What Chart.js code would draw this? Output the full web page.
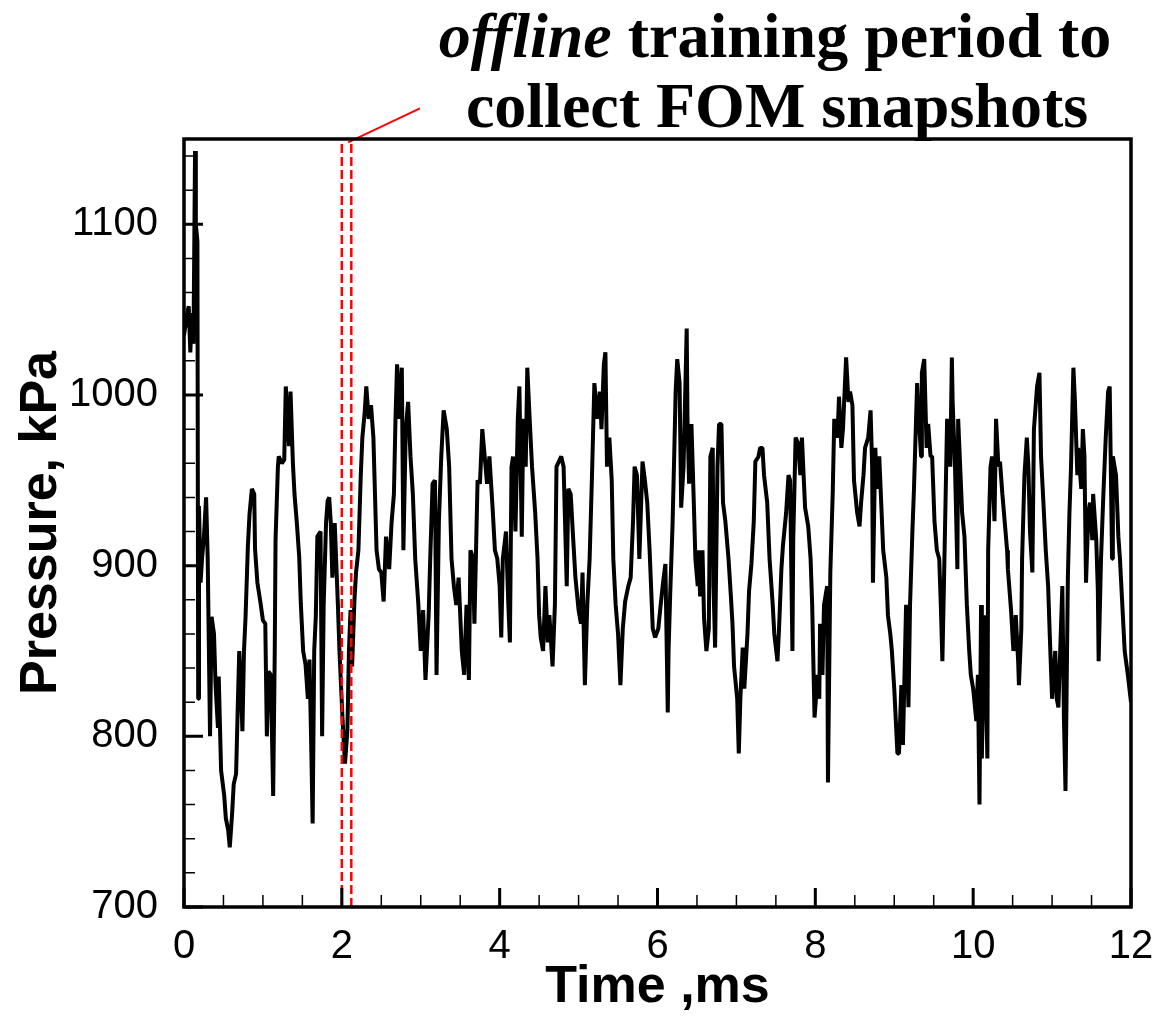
<!DOCTYPE html>
<html lang="en">
<head>
<meta charset="UTF-8">
<title>Pressure history</title>
<script src="https://cdn.jsdelivr.net/npm/chart.js"></script>
<style>
  body { margin: 0; background: #fff; }
  #wrap { width: 1171px; height: 1016px; }
</style>
</head>
<body>
<div id="wrap"><canvas id="pressureChart"></canvas></div>
<script>
// probe pressure vs time
const timeMs = [
  0.00, 0.03, 0.06, 0.08, 0.10, 0.12, 0.14, 0.15, 0.17, 0.18, 0.19, 0.21, 0.23, 0.25, 0.28, 0.30,
  0.33, 0.35, 0.38, 0.40, 0.43, 0.44, 0.47, 0.51, 0.53, 0.56, 0.58, 0.61, 0.63, 0.66, 0.68, 0.70,
  0.72, 0.74, 0.76, 0.78, 0.81, 0.83, 0.86, 0.89, 0.90, 0.93, 0.97, 1.00, 1.03, 1.05, 1.07, 1.10,
  1.13, 1.15, 1.16, 1.19, 1.20, 1.24, 1.27, 1.29, 1.33, 1.35, 1.38, 1.40, 1.43, 1.46, 1.48, 1.51,
  1.54, 1.57, 1.59, 1.61, 1.63, 1.65, 1.67, 1.69, 1.73, 1.75, 1.77, 1.80, 1.82, 1.84, 1.86, 1.88,
  1.91, 1.95, 1.97, 2.01, 2.04, 2.07, 2.09, 2.11, 2.13, 2.16, 2.18, 2.21, 2.24, 2.26, 2.29, 2.31,
  2.34, 2.37, 2.40, 2.42, 2.44, 2.47, 2.50, 2.53, 2.56, 2.60, 2.63, 2.66, 2.68, 2.70, 2.73, 2.76,
  2.78, 2.81, 2.84, 2.87, 2.90, 2.93, 2.97, 3.00, 3.03, 3.06, 3.10, 3.12, 3.15, 3.18, 3.20, 3.23,
  3.26, 3.29, 3.33, 3.36, 3.39, 3.42, 3.45, 3.48, 3.52, 3.55, 3.58, 3.61, 3.63, 3.66, 3.68, 3.72,
  3.75, 3.78, 3.81, 3.84, 3.87, 3.91, 3.94, 3.97, 4.00, 4.02, 4.04, 4.08, 4.11, 4.13, 4.15, 4.17,
  4.20, 4.23, 4.25, 4.28, 4.30, 4.33, 4.35, 4.38, 4.41, 4.45, 4.48, 4.50, 4.52, 4.55, 4.58, 4.61,
  4.63, 4.67, 4.70, 4.72, 4.75, 4.78, 4.81, 4.85, 4.87, 4.90, 4.93, 4.96, 5.00, 5.03, 5.05, 5.08,
  5.11, 5.14, 5.17, 5.20, 5.24, 5.27, 5.29, 5.32, 5.34, 5.36, 5.39, 5.42, 5.44, 5.47, 5.50, 5.53,
  5.56, 5.59, 5.63, 5.66, 5.69, 5.71, 5.74, 5.77, 5.81, 5.84, 5.87, 5.90, 5.94, 5.97, 6.01, 6.04,
  6.07, 6.10, 6.13, 6.14, 6.16, 6.19, 6.21, 6.23, 6.25, 6.28, 6.30, 6.33, 6.37, 6.38, 6.40, 6.43,
  6.46, 6.48, 6.51, 6.52, 6.54, 6.57, 6.59, 6.62, 6.65, 6.67, 6.70, 6.71, 6.73, 6.76, 6.78, 6.81,
  6.83, 6.86, 6.90, 6.93, 6.95, 6.97, 7.01, 7.03, 7.05, 7.08, 7.10, 7.14, 7.16, 7.19, 7.22, 7.24,
  7.28, 7.30, 7.33, 7.35, 7.39, 7.42, 7.46, 7.48, 7.52, 7.54, 7.57, 7.59, 7.63, 7.66, 7.68, 7.71,
  7.72, 7.75, 7.78, 7.81, 7.83, 7.87, 7.91, 7.94, 7.96, 7.99, 8.03, 8.05, 8.06, 8.09, 8.11, 8.15,
  8.16, 8.19, 8.22, 8.24, 8.28, 8.30, 8.33, 8.35, 8.39, 8.42, 8.44, 8.47, 8.49, 8.53, 8.56, 8.58,
  8.61, 8.63, 8.67, 8.70, 8.72, 8.73, 8.76, 8.78, 8.81, 8.84, 8.86, 8.90, 8.92, 8.95, 8.97, 9.00,
  9.04, 9.06, 9.09, 9.11, 9.15, 9.18, 9.20, 9.23, 9.25, 9.29, 9.32, 9.34, 9.35, 9.38, 9.41, 9.43,
  9.46, 9.48, 9.51, 9.54, 9.57, 9.59, 9.61, 9.63, 9.67, 9.68, 9.71, 9.73, 9.74, 9.77, 9.80, 9.81,
  9.84, 9.86, 9.89, 9.92, 9.95, 9.97, 10.00, 10.04, 10.06, 10.08, 10.10, 10.11, 10.14, 10.18, 10.19, 10.22,
  10.24, 10.27, 10.29, 10.32, 10.34, 10.37, 10.39, 10.43, 10.44, 10.48, 10.51, 10.54, 10.57, 10.58, 10.61, 10.62,
  10.65, 10.68, 10.70, 10.72, 10.75, 10.77, 10.81, 10.84, 10.86, 10.89, 10.92, 10.95, 10.97, 11.00, 11.04, 11.06,
  11.08, 11.11, 11.13, 11.15, 11.17, 11.20, 11.22, 11.24, 11.27, 11.29, 11.32, 11.33, 11.37, 11.39, 11.41, 11.43,
  11.46, 11.48, 11.51, 11.52, 11.56, 11.58, 11.59, 11.62, 11.65, 11.68, 11.71, 11.73, 11.76, 11.77, 11.81, 11.84,
  11.86, 11.89, 11.92, 11.96, 12.00
];

const pressureKpa = [
  1035, 1045, 1052, 1025, 1048, 1030, 1143, 1100, 1090, 822, 935, 890, 905, 915, 940, 905,
  800, 870, 860, 830, 805, 835, 780, 765, 752, 745, 735, 755, 772, 778, 815, 850,
  830, 803, 850, 870, 912, 930, 945, 942, 910, 890, 878, 868, 866, 800, 838, 836,
  765, 850, 915, 958, 964, 960, 962, 1005, 970, 1002, 960, 942, 925, 905, 878, 850,
  842, 822, 845, 800, 749, 850, 870, 917, 920, 800, 877, 925, 938, 940, 925, 893,
  925, 877, 850, 809, 784, 803, 850, 874, 841, 880, 896, 909, 953, 975, 990, 1005,
  986, 994, 975, 942, 909, 898, 896, 879, 917, 898, 925, 942, 986, 1018, 986, 1016,
  909, 980, 996, 964, 942, 904, 877, 850, 874, 833, 871, 904, 948, 950, 836, 926,
  964, 991, 980, 958, 904, 888, 877, 893, 850, 836, 877, 833, 909, 905, 866, 950,
  948, 980, 964, 948, 964, 934, 909, 904, 888, 858, 904, 920, 877, 855, 958, 964,
  920, 986, 1005, 917, 986, 958, 1016, 986, 958, 931, 904, 871, 858, 850, 888, 855,
  871, 841, 877, 958, 961, 964, 958, 888, 945, 942, 917, 893, 874, 866, 896, 830,
  877, 904, 953, 1007, 986, 1002, 980, 1018, 1025, 958, 975, 950, 904, 877, 860, 830,
  863, 879, 888, 893, 926, 958, 953, 904, 961, 950, 937, 909, 863, 858, 863, 877,
  890, 901, 814, 850, 882, 923, 961, 1002, 1021, 1007, 934, 958, 1039, 986, 948, 983,
  937, 904, 888, 909, 882, 909, 869, 850, 863, 964, 969, 888, 852, 958, 983, 983,
  937, 926, 904, 882, 866, 841, 822, 790, 822, 852, 828, 860, 885, 901, 926, 961,
  964, 969, 969, 953, 937, 904, 877, 860, 844, 863, 898, 912, 931, 953, 950, 850,
  915, 975, 972, 953, 975, 934, 923, 904, 877, 811, 836, 822, 866, 836, 877, 888,
  773, 896, 942, 986, 975, 999, 969, 980, 1022, 996, 1002, 994, 950, 931, 923, 937,
  953, 969, 975, 991, 958, 890, 969, 945, 964, 931, 909, 893, 871, 860, 850, 828,
  790, 790, 830, 795, 877, 817, 877, 920, 945, 1007, 980, 964, 1013, 1021, 969, 983,
  964, 964, 926, 909, 904, 877, 844, 890, 986, 975, 958, 1022, 996, 958, 898, 986,
  953, 931, 917, 877, 850, 836, 828, 809, 836, 760, 877, 787, 871, 787, 909, 958,
  964, 926, 986, 958, 961, 942, 931, 909, 898, 874, 850, 871, 844, 830, 863, 904,
  953, 975, 958, 920, 896, 980, 1005, 1013, 964, 937, 909, 888, 860, 822, 850, 822,
  817, 860, 888, 811, 768, 893, 931, 958, 1016, 996, 953, 969, 945, 980, 964, 890,
  931, 937, 915, 942, 915, 885, 844, 904, 942, 975, 1002, 1005, 904, 964, 953, 917,
  904, 877, 850, 836, 820
];

// axis ticks
const xTicks = [0, 2, 4, 6, 8, 10, 12];
const yTicks = [700, 800, 900, 1000, 1100];

// offline training window and the pointer from it to the caption
const trainWindow = [2.0, 2.12];
const pointerX = [2.08, 2.99];
const pointerY = [1148, 1168];

const AXIS_FONT = '"Liberation Sans", Arial, sans-serif';
const SERIF = '"Liberation Serif", "Times New Roman", serif';

// frame box with inward tick marks, like the plotting package draws them
const framePlugin = {
  id: 'frame',
  afterDraw(chart) {
    const { ctx, chartArea: a, scales: { x, y } } = chart;
    ctx.save();
    ctx.strokeStyle = '#000';
    ctx.lineCap = 'butt';

    ctx.lineWidth = 1.5;
    ctx.beginPath();
    for (let t = 0.5; t < 12; t += 0.5) {
      if (t % 2 === 0) continue;
      const px = x.getPixelForValue(t);
      ctx.moveTo(px, a.bottom);
      ctx.lineTo(px, a.bottom - 12);
    }
    for (let p = 720; p < 1150; p += 20) {
      if (p % 100 === 0) continue;
      const py = y.getPixelForValue(p);
      ctx.moveTo(a.left, py);
      ctx.lineTo(a.left + 11, py);
    }
    ctx.stroke();

    ctx.lineWidth = 3;
    ctx.beginPath();
    xTicks.forEach(t => {
      const px = x.getPixelForValue(t);
      ctx.moveTo(px, a.bottom);
      ctx.lineTo(px, a.bottom - 19);
    });
    yTicks.forEach(p => {
      const py = y.getPixelForValue(p);
      ctx.moveTo(a.left, py);
      ctx.lineTo(a.left + 19, py);
    });
    ctx.stroke();

    ctx.lineWidth = 3.5;
    ctx.strokeRect(a.left, a.top, a.right - a.left, a.bottom - a.top);
    ctx.restore();
  }
};

// two-line caption above the plot, first word in italics
const captionPlugin = {
  id: 'caption',
  afterDraw(chart) {
    const { ctx } = chart;
    const cx = 775;
    ctx.save();
    ctx.fillStyle = '#000';
    ctx.textBaseline = 'alphabetic';

    const italic = 'italic bold 64px ' + SERIF;
    const bold = 'bold 64px ' + SERIF;
    const w1 = 'offline', w2 = ' training period to';
    ctx.font = italic;
    const a = ctx.measureText(w1).width;
    ctx.font = bold;
    const b = ctx.measureText(w2).width;
    const left = cx - (a + b) / 2;
    ctx.font = italic;
    ctx.fillText(w1, left, 57);
    ctx.font = bold;
    ctx.fillText(w2, left + a, 57);

    ctx.textAlign = 'center';
    ctx.fillText('collect FOM snapshots', cx + 2, 127);
    ctx.restore();
  }
};

const trace = timeMs.map((t, i) => ({ x: t, y: pressureKpa[i] }));

new Chart(document.getElementById('pressureChart'), {
  type: 'line',
  data: {
    datasets: [
      {
        data: [{ x: trainWindow[0], y: 700 }, { x: trainWindow[0], y: 1150 }],
        borderColor: '#ff0000', borderWidth: 2.5, borderDash: [9, 4], pointRadius: 0
      },
      {
        data: [{ x: trainWindow[1], y: 700 }, { x: trainWindow[1], y: 1150 }],
        borderColor: '#ff0000', borderWidth: 2.5, borderDash: [9, 4], pointRadius: 0
      },
      {
        data: [{ x: pointerX[0], y: pointerY[0] }, { x: pointerX[1], y: pointerY[1] }],
        borderColor: '#ff0000', borderWidth: 2, pointRadius: 0, clip: false
      },
      {
        data: trace,
        borderColor: '#000', borderWidth: 4, borderJoinStyle: 'bevel', pointRadius: 0, tension: 0
      }
    ]
  },
  options: {
    responsive: true,
    maintainAspectRatio: false,
    animation: false,
    layout: { padding: { top: 139, right: 40, left: 0, bottom: 0 } },
    plugins: { legend: { display: false }, tooltip: { enabled: false } },
    scales: {
      x: {
        type: 'linear', min: 0, max: 12,
        afterBuildTicks: s => { s.ticks = xTicks.map(v => ({ value: v })); },
        afterFit: s => { s.height = 109; },
        grid: { display: false }, border: { display: false },
        ticks: {
          color: '#000', font: { family: AXIS_FONT, size: 40 }, padding: 8,
          maxRotation: 0, autoSkip: false, callback: v => String(v)
        },
        title: {
          display: true, text: 'Time ,ms', color: '#000',
          font: { family: AXIS_FONT, size: 52, weight: 'bold', lineHeight: 1 },
          padding: { top: 0, bottom: 2 }
        }
      },
      y: {
        type: 'linear', min: 700, max: 1150,
        afterBuildTicks: s => { s.ticks = yTicks.map(v => ({ value: v })); },
        afterFit: s => { s.width = 184; },
        grid: { display: false }, border: { display: false },
        ticks: { color: '#000', font: { family: AXIS_FONT, size: 40 }, padding: 18, callback: v => String(v) },
        title: {
          display: true, text: 'Pressure, kPa', color: '#000',
          font: { family: AXIS_FONT, size: 52, weight: 'bold', lineHeight: 1 },
          padding: { top: 16, bottom: 0 }
        }
      }
    }
  },
  plugins: [framePlugin, captionPlugin]
});
</script>
</body>
</html>
